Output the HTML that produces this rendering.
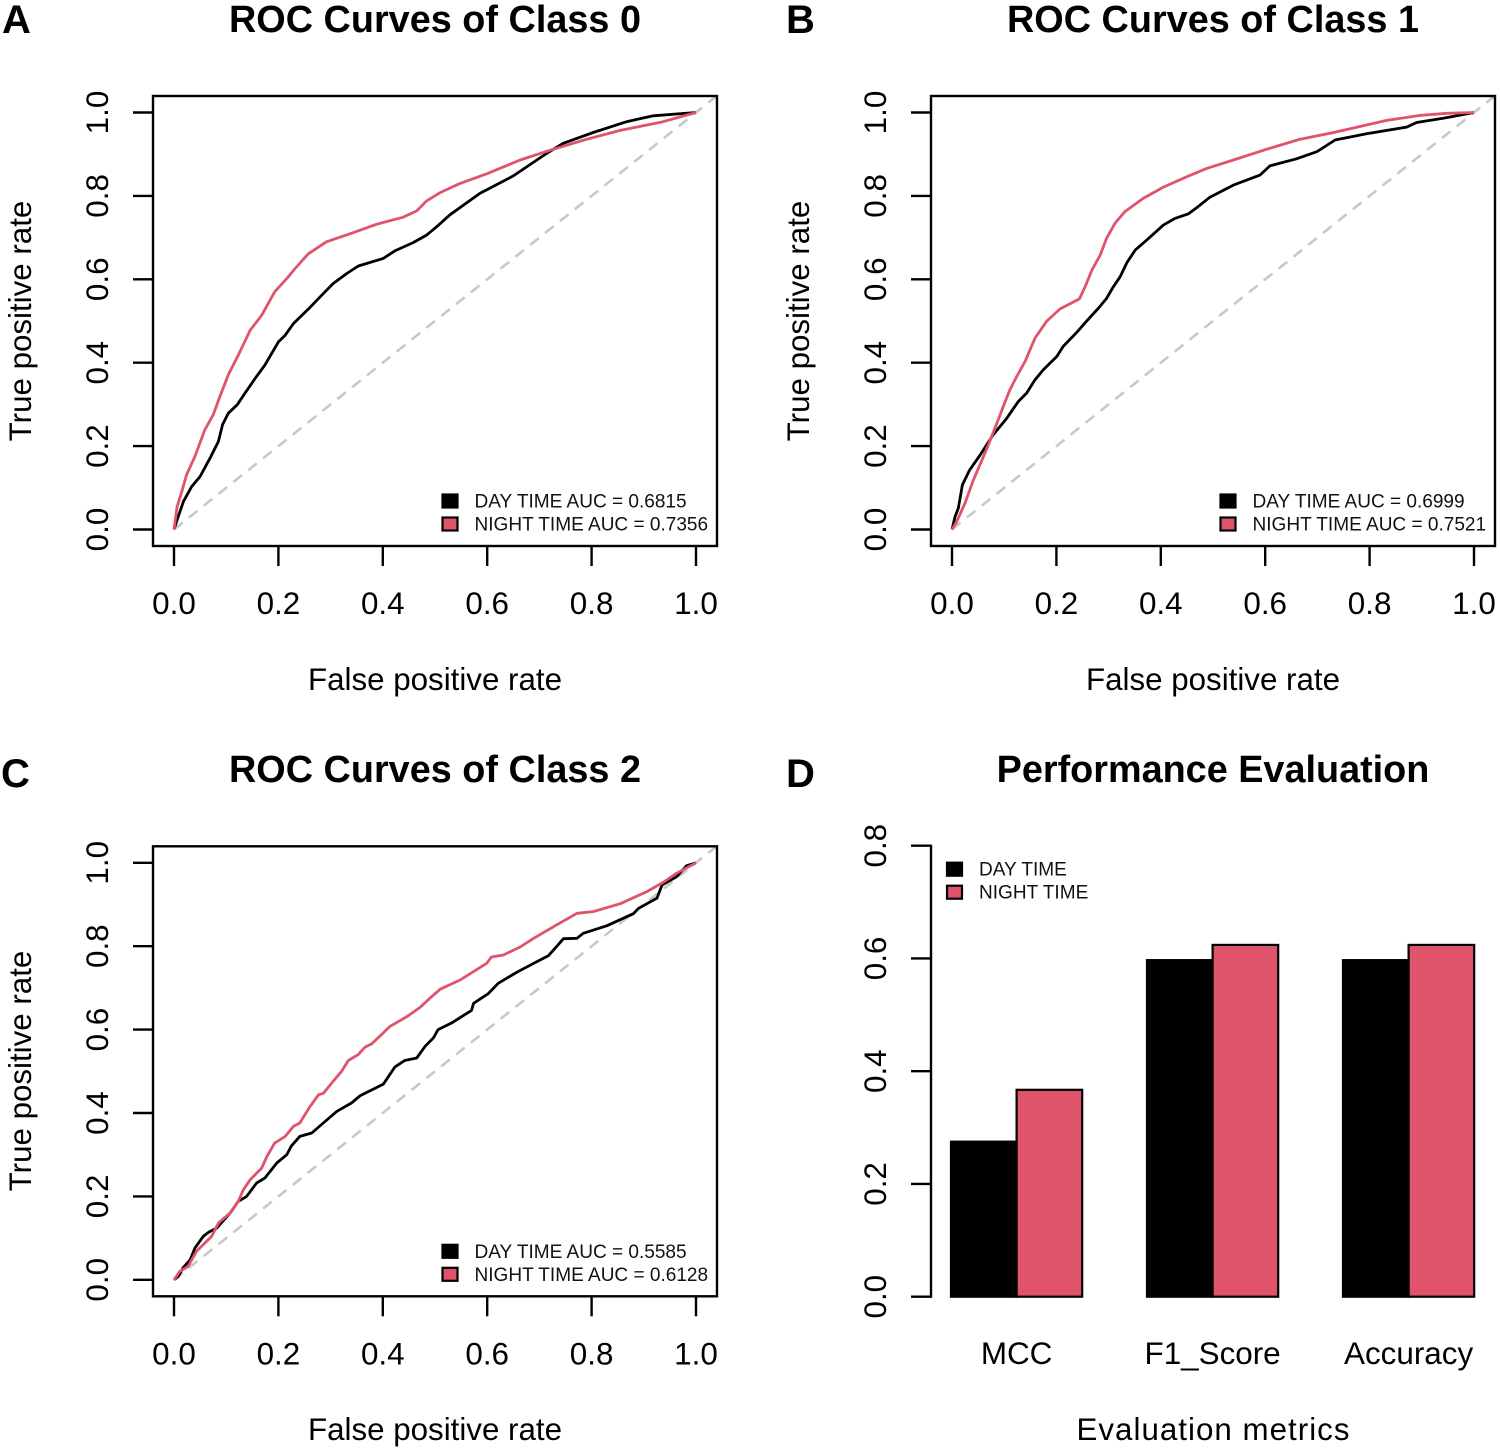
<!DOCTYPE html>
<html lang="en">
<head>
<meta charset="utf-8">
<title>ROC Curves and Performance Evaluation</title>
<style>
html,body{margin:0;padding:0;background:#fff;width:1500px;height:1451px;overflow:hidden}
svg{display:block;font-family:"Liberation Sans",Arial,sans-serif;fill:#000}
.title{font-size:37.8px;font-weight:bold;text-anchor:middle}
.letter{font-size:40px;font-weight:bold}
.axis-title{font-size:31.3px;text-anchor:middle}
.tick-label{font-size:31.4px;text-anchor:middle}
.legend-text{font-size:19.05px;fill:#111}
.frame{fill:none;stroke:#000;stroke-width:2.4}
</style>
</head>
<body>
<svg id="figure" width="1500" height="1451" viewBox="0 0 1500 1451" xmlns="http://www.w3.org/2000/svg">
  <rect x="0" y="0" width="1500" height="1451" fill="#fff"/>

  <g id="panel-0">
    <text class="letter" x="2" y="33">A</text>
    <text class="title" x="435" y="32" textLength="412">ROC Curves of Class 0</text>
    <text class="axis-title" x="435" y="690">False positive rate</text>
    <text class="axis-title" transform="translate(31,321) rotate(-90)">True positive rate</text>
  </g>
  <g id="panel-1">
    <text class="letter" x="786" y="33">B</text>
    <text class="title" x="1213" y="32" textLength="412">ROC Curves of Class 1</text>
    <text class="axis-title" x="1213" y="690">False positive rate</text>
    <text class="axis-title" transform="translate(809,321) rotate(-90)">True positive rate</text>
  </g>
  <g id="panel-2">
    <text class="letter" x="1" y="787">C</text>
    <text class="title" x="435" y="782" textLength="412">ROC Curves of Class 2</text>
    <text class="axis-title" x="435" y="1440">False positive rate</text>
    <text class="axis-title" transform="translate(31,1071) rotate(-90)">True positive rate</text>
  </g>
  <g id="panel-3">
    <text class="letter" x="786" y="787">D</text>
    <text class="title" x="1213" y="782">Performance Evaluation</text>
    <text class="axis-title" x="1213" y="1440" textLength="273">Evaluation metrics</text>
  </g>
</svg>
<script>
/* Tick labels */
var rocTickValues = [0, 0.2, 0.4, 0.6, 0.8, 1.0];
var barTickValues = [0, 0.2, 0.4, 0.6, 0.8];

/* Class 0 */
var class0DayFpr = [0,.006,.018,.034,.050,.069,.085,.093,.104,.121,.136,.158,.174,.200,.213,.229,.261,.280,.305,.331,.353,.401,.423,.458,.484,.503,.529,.586,.650,.714,.745,.803,.867,.918,1];
var class0DayTpr = [0,.023,.067,.103,.127,.171,.211,.251,.279,.299,.327,.367,.394,.450,.466,.494,.533,.558,.590,.614,.632,.650,.668,.688,.706,.726,.755,.806,.848,.902,.926,.952,.978,.992,1];
var class0NightFpr = [0,.006,.015,.024,.040,.059,.075,.088,.104,.123,.146,.168,.193,.219,.232,.257,.292,.337,.388,.439,.465,.484,.510,.548,.599,.663,.727,.791,.855,.937,1];
var class0NightTpr = [0,.055,.091,.131,.175,.239,.275,.319,.371,.418,.478,.514,.570,.606,.626,.661,.690,.709,.732,.749,.764,.788,.808,.830,.853,.886,.912,.936,.957,.978,1];

/* Class 1 */
var class1DayFpr = [0,.006,.012,.020,.034,.054,.079,.105,.127,.143,.159,.175,.201,.213,.239,.258,.280,.296,.309,.322,.335,.351,.373,.405,.427,.453,.469,.494,.539,.590,.609,.660,.699,.734,.794,.871,.890,.941,1];
var class1DayTpr = [0,.031,.051,.107,.143,.179,.227,.267,.307,.327,.359,.383,.415,.439,.473,.500,.530,.554,.582,.606,.640,.670,.694,.730,.746,.757,.772,.797,.826,.850,.872,.889,.906,.934,.949,.965,.976,.986,1];
var class1NightFpr = [0,.009,.025,.041,.067,.086,.102,.111,.124,.140,.159,.181,.207,.244,.255,.268,.284,.296,.312,.331,.366,.405,.450,.488,.539,.603,.667,.731,.794,.833,.897,.948,1];
var class1NightTpr = [0,.019,.063,.119,.195,.255,.307,.335,.367,.403,.459,.499,.529,.553,.582,.622,.658,.698,.734,.762,.794,.821,.846,.866,.886,.912,.936,.952,.970,.981,.993,.998,1];

/* Class 2 */
var class2DayFpr = [0,.008,.018,.031,.040,.056,.066,.082,.110,.123,.139,.158,.174,.197,.216,.225,.241,.264,.286,.312,.340,.356,.401,.423,.442,.465,.481,.497,.506,.532,.570,.574,.602,.621,.656,.689,.717,.733,.746,.772,.784,.829,.880,.890,.925,.935,.963,.982,1];
var class2DayTpr = [0,.008,.030,.048,.076,.104,.114,.124,.164,.188,.200,.232,.244,.280,.300,.321,.344,.352,.376,.404,.424,.441,.469,.510,.526,.532,.560,.580,.600,.616,.646,.663,.686,.711,.737,.759,.777,.799,.818,.819,.831,.849,.878,.891,.915,.947,.967,.993,1];
var class2NightFpr = [0,.011,.027,.043,.072,.085,.107,.123,.133,.146,.168,.178,.193,.213,.229,.241,.261,.277,.286,.305,.321,.334,.353,.366,.379,.414,.446,.471,.490,.510,.548,.599,.608,.631,.663,.689,.733,.772,.803,.855,.906,.937,.963,1];
var class2NightTpr = [0,.020,.032,.068,.104,.136,.160,.188,.216,.240,.268,.296,.328,.344,.368,.376,.416,.444,.447,.476,.500,.526,.540,.558,.566,.608,.631,.653,.675,.697,.719,.759,.774,.779,.798,.819,.851,.879,.883,.902,.931,.953,.975,1];

/* Performance evaluation */
var metricCategories = ['MCC', 'F1_Score', 'Accuracy'];
var dayTimeScores = [0.275, 0.597, 0.597];
var nightTimeScores = [0.367, 0.624, 0.624];

/* Legend text */
var class0Legend = ['DAY TIME AUC = 0.6815', 'NIGHT TIME AUC = 0.7356'];
var class1Legend = ['DAY TIME AUC = 0.6999', 'NIGHT TIME AUC = 0.7521'];
var class2Legend = ['DAY TIME AUC = 0.5585', 'NIGHT TIME AUC = 0.6128'];
var barLegend = ['DAY TIME', 'NIGHT TIME'];

var NS = 'http://www.w3.org/2000/svg';
var RED = '#DF536B';

function make(parent, tag, attrs) {
  var el = document.createElementNS(NS, tag);
  for (var k in attrs) el.setAttribute(k, attrs[k]);
  parent.appendChild(el);
  return el;
}

function drawLegend(group, left, baseline, labels) {
  var colors = ['#000', RED];
  for (var i = 0; i < labels.length; i++) {
    var swatch = make(group, 'rect', {x: left, y: baseline - 13 + i * 23, width: 15, height: 13, fill: colors[i], stroke: '#000', 'stroke-width': 2.2});
    
    
    var text = make(group, 'text', {x: left + 32, y: baseline + i * 23, 'class': 'legend-text'});
    text.textContent = labels[i];
    
    
  }
}

function drawRocPanel(index, originX, top, dayFpr, dayTpr, nightFpr, nightTpr, legend) {
  var group = document.getElementById('panel-' + index);
  var boxLeft = originX - 21, boxTop = top, boxWidth = 564, boxHeight = 450;
  var bottom = top + boxHeight;
  function xScale(v) { return originX + v * 522; }
  function yScale(v) { return top + 433.5 - v * 417; }

  var diagonal = make(group, 'line', {x1: xScale(0), y1: yScale(0), x2: xScale(1.04), y2: yScale(1.04), stroke: '#c8c8c8', 'stroke-width': 2.6, 'stroke-dasharray': '11 8'});
  
  

  var series = [[dayFpr, dayTpr, '#000', 'day-time-roc-curve'], [nightFpr, nightTpr, RED, 'night-time-roc-curve']];
  series.forEach(function (s) {
    var pts = s[0].map(function (v, i) { return xScale(v).toFixed(1) + ',' + yScale(s[1][i]).toFixed(1); }).join(' ');
    var line = make(group, 'polyline', {points: pts, fill: 'none', stroke: s[2], 'stroke-width': 2.8, 'stroke-linejoin': 'round'});
    
    
  });

  var frame = make(group, 'rect', {x: boxLeft, y: boxTop, width: boxWidth, height: boxHeight, 'class': 'frame'});
  
  

  rocTickValues.forEach(function (v) {
    var label = v.toFixed(1);
    var xt = make(group, 'line', {x1: xScale(v), y1: bottom, x2: xScale(v), y2: bottom + 20, stroke: '#000', 'stroke-width': 2.4});
    
    
    var xl = make(group, 'text', {x: xScale(v), y: bottom + 68, 'class': 'tick-label'});
    xl.textContent = label;
    
    
    var yt = make(group, 'line', {x1: boxLeft, y1: yScale(v), x2: boxLeft - 20, y2: yScale(v), stroke: '#000', 'stroke-width': 2.4});
    
    
    var yl = make(group, 'text', {transform: 'translate(' + (boxLeft - 45) + ',' + yScale(v) + ') rotate(-90)', 'class': 'tick-label'});
    yl.textContent = label;
    
    
  });

  drawLegend(group, originX + 268.5, top + 411.5, legend);
}

function drawBarPanel() {
  var group = document.getElementById('panel-3');
  var zeroY = 1296.7, axisX = 931;
  function yScale(v) { return zeroY - v * 563.75; }
  function groupLeft(i) { return 951 + i * 196; }
  var barWidth = 65.6;

  metricCategories.forEach(function (name, i) {
    var dayTop = yScale(dayTimeScores[i]);
    var dayBar = make(group, 'rect', {x: groupLeft(i), y: dayTop, width: barWidth, height: zeroY - dayTop, fill: '#000', stroke: '#000', 'stroke-width': 2.2});
    
    
    var nightTop = yScale(nightTimeScores[i]);
    var nightBar = make(group, 'rect', {x: groupLeft(i) + barWidth, y: nightTop, width: barWidth, height: zeroY - nightTop, fill: RED, stroke: '#000', 'stroke-width': 2.2});
    
    
    var label = make(group, 'text', {x: groupLeft(i) + barWidth, y: 1364, 'class': 'tick-label'});
    label.textContent = name;
    
    
  });

  var axis = make(group, 'line', {x1: axisX, y1: yScale(barTickValues[0]) + 1, x2: axisX, y2: yScale(barTickValues[barTickValues.length - 1]) - 1, stroke: '#000', 'stroke-width': 2.4});
  
  

  barTickValues.forEach(function (v) {
    var tick = make(group, 'line', {x1: axisX, y1: yScale(v), x2: axisX - 20, y2: yScale(v), stroke: '#000', 'stroke-width': 2.4});
    
    
    var text = make(group, 'text', {transform: 'translate(' + (axisX - 45) + ',' + yScale(v) + ') rotate(-90)', 'class': 'tick-label'});
    text.textContent = v.toFixed(1);
    
    
  });

  drawLegend(group, 947, 875.7, barLegend);
}

drawRocPanel(0, 174, 96, class0DayFpr, class0DayTpr, class0NightFpr, class0NightTpr, class0Legend);
drawRocPanel(1, 952, 96, class1DayFpr, class1DayTpr, class1NightFpr, class1NightTpr, class1Legend);
drawRocPanel(2, 174, 846.3, class2DayFpr, class2DayTpr, class2NightFpr, class2NightTpr, class2Legend);
drawBarPanel();
</script>
</body>
</html>
